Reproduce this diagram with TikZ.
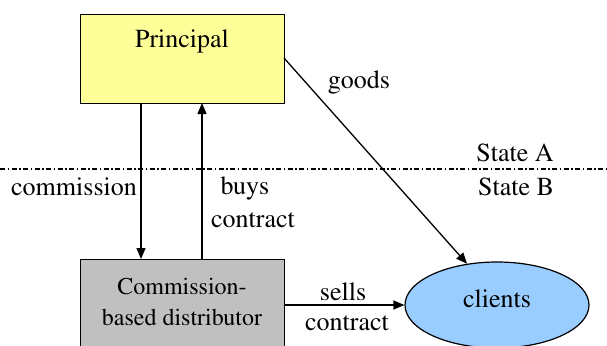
\documentclass[tikz,border=0pt]{standalone}
\usepackage[T1]{fontenc}
\renewcommand{\rmdefault}{ptm}
\usetikzlibrary{shapes.geometric,arrows.meta}
\definecolor{pyellow}{HTML}{FFFF99}
\definecolor{dgray}{HTML}{C0C0C0}
\definecolor{cblue}{HTML}{99CCFF}
\begin{document}
\begin{tikzpicture}[x=1pt,y=-1pt,
  lbl/.style={font=\rmfamily\fontsize{26}{30}\selectfont, inner sep=0pt, anchor=center},
  conn/.style={line width=1.3pt, -{Triangle[length=11pt,width=9pt]}},
  boxstyle/.style={draw, line width=1.2pt, rectangle, inner sep=0pt, anchor=north west}]
\useasboundingbox (0,0) rectangle (607,345);
\clip (0,0) rectangle (607,345);
% Principal box
\node[boxstyle, fill=pyellow, minimum width=204pt, minimum height=89pt] (P) at (80,14) {};
\node[lbl] (Ptxt) at (182,42) {Principal};
% Distributor box
\node[boxstyle, fill=dgray, minimum width=204pt, minimum height=92pt] (D) at (80,259) {};
\node[lbl, font=\rmfamily\fontsize{24}{31}\selectfont, align=center] (Dtxt) at (182,302) {Commission-\\based distributor};
% clients ellipse
\node[draw, line width=1.2pt, ellipse, fill=cblue, minimum width=184pt, minimum height=86pt, inner sep=0pt] (C) at (497,305) {};
\node[lbl] (Ctxt) at (497,299) {clients};
% state border
\coordinate (bl) at (0,169);
\coordinate (br) at (607,169);
\draw[line width=1.2pt, dash pattern=on 5pt off 2.5pt on 1.5pt off 2.5pt] (bl) -- (br);
\node[lbl] (SA) at (515,153) {State A};
\node[lbl] (SB) at (516,187) {State B};
% connectors
\coordinate (p1) at (141,103);
\coordinate (d1) at (141,259);
\draw[conn] (p1) -- (d1);
\coordinate (d2) at (202,259);
\coordinate (p2) at (202,103);
\draw[conn] (d2) -- (p2);
\coordinate (gs) at (284,58);
\draw[conn] (gs) -- (C.126);
\coordinate (ds) at (284,305);
\draw[conn] (ds) -- (C.west);
% labels
\node[lbl] (lcom) at (74,187) {commission};
\node[lbl] (lbuys) at (245,188) {buys};
\node[lbl] (lcon) at (253,220) {contract};
\node[lbl] (lgoods) at (359,83) {goods};
\node[lbl] (lsells) at (343,292) {sells};
\node[lbl] (lcon2) at (347,323) {contract};
\end{tikzpicture}
\end{document}
